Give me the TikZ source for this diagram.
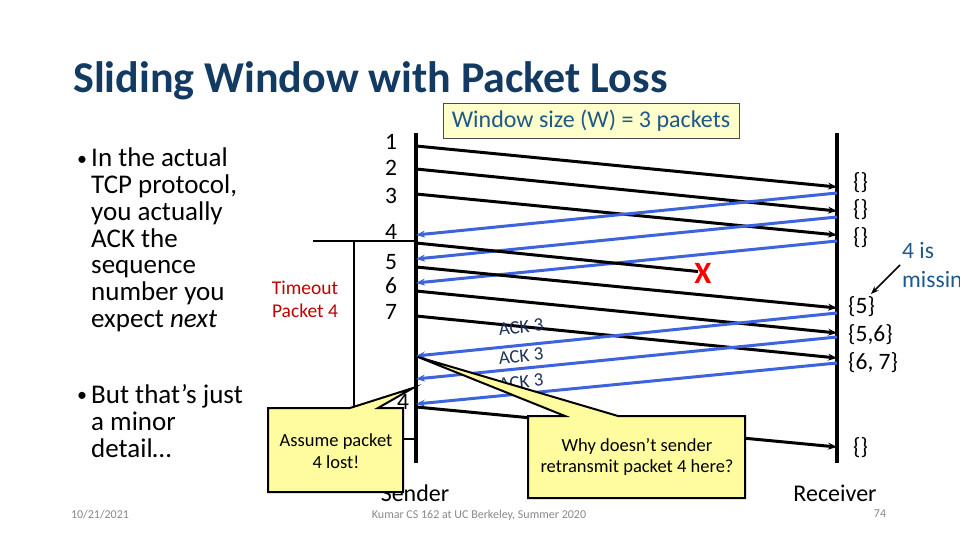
\documentclass[tikz,border=0pt]{standalone}
\usepackage{fontspec}
\setmainfont{Carlito}
\usetikzlibrary{arrows.meta}
\definecolor{titleblue}{RGB}{18,58,98}
\definecolor{ackblue}{RGB}{60,100,220}
\definecolor{noteblue}{RGB}{31,88,140}
\definecolor{labelslate}{RGB}{30,50,90}
\definecolor{calloutyellow}{RGB}{255,252,160}
\definecolor{boxyellow}{RGB}{255,255,204}
\definecolor{timeoutred}{RGB}{192,0,0}
\definecolor{footgray}{RGB}{137,137,137}
\tikzset{
  pkt/.style={line width=3pt, black, -{Stealth[length=9pt,width=7pt]}},
  lostpkt/.style={line width=3pt, black},
  ack/.style={line width=3pt, ackblue, -{Stealth[length=9pt,width=7pt]}},
  timeline/.style={line width=4pt, black},
  bullettext/.style={anchor=base west, inner sep=0pt, font=\fontsize{27}{28}\selectfont},
  bulletdot/.style={anchor=base west, inner sep=0pt, font=\fontsize{20}{24}\selectfont},
  seqnum/.style={inner sep=0pt, font=\fontsize{23.5}{26}\selectfont},
  buflabel/.style={anchor=west, inner sep=0pt, font=\fontsize{23.5}{26}\selectfont},
  acklabel/.style={inner sep=0pt, text=labelslate, rotate=5.7, font=\fontsize{19}{22}\selectfont},
  callout/.style={fill=calloutyellow, draw=black, line width=2pt, line join=miter},
  callouttext/.style={inner sep=0pt, align=center, font=\fontsize{18.5}{21.5}\selectfont},
  foot/.style={inner sep=0pt, text=footgray, font=\fontsize{12}{14}\selectfont},
}
\begin{document}
\begin{tikzpicture}[x=1pt,y=-1pt]
\clip (0,0) rectangle (960,540);
\fill[white] (0,0) rectangle (960,540);

% title
\node[anchor=base west, inner sep=0pt, text=titleblue, font=\bfseries\fontsize{44}{50}\selectfont] (title) at (73,93) {Sliding Window with Packet Loss};

% bullets
\node[bulletdot] (bu1) at (77,165) {•};
\node[bullettext] (bl1) at (91,167) {In the actual};
\node[bullettext] (bl2) at (91,193.7) {TCP protocol,};
\node[bullettext] (bl3) at (91,220.3) {you actually};
\node[bullettext] (bl4) at (91,247) {ACK the};
\node[bullettext] (bl5) at (91,273.7) {sequence};
\node[bullettext] (bl6) at (91,300.3) {number you};
\node[bullettext] (bl7) at (91,327) {expect \textit{next}};
\node[bulletdot] (bu2) at (77,401) {•};
\node[bullettext] (bl8) at (91,403) {But that’s just};
\node[bullettext] (bl9) at (91,430) {a minor};
\node[bullettext] (bl10) at (91,457) {detail…};

% window size box
\node[draw=black!70, line width=0.8pt, fill=boxyellow, minimum width=296pt, minimum height=35pt, inner sep=0pt, text=noteblue, font=\fontsize{24}{28}\selectfont] (wbox) at (591,120.5) {Window size (W) = 3 packets};

% timelines
\coordinate (sTop) at (416,133);
\coordinate (sBot) at (416,463);
\coordinate (rTop) at (837,133);
\coordinate (rBot) at (837,463);
\draw[timeline] (sTop) -- (sBot);
\draw[timeline] (rTop) -- (rBot);

% sequence numbers
\node[seqnum] (n1) at (391,142) {1};
\node[seqnum] (n2) at (391,168) {2};
\node[seqnum] (n3) at (391,196) {3};
\node[seqnum] (n4) at (391,232) {4};
\node[seqnum] (n5) at (391,262) {5};
\node[seqnum] (n6) at (391,286) {6};
\node[seqnum] (n7) at (391,312) {7};

% timeout bracket
\coordinate (tA) at (313,241);
\coordinate (tB) at (416,241);
\coordinate (tC) at (354,241);
\coordinate (tD) at (354,439);
\coordinate (tE) at (416,439);
\draw[line width=1.5pt] (tA) -- (tB);
\draw[line width=1.5pt] (tC) -- (tD) -- (tE);
\node[inner sep=0pt, text=timeoutred, align=center, font=\fontsize{19.5}{23.5}\selectfont] (tout) at (305,299.5) {Timeout\\Packet 4};

% packet endpoints
\coordinate (s1) at (416,146);  \coordinate (r1) at (837,187);
\coordinate (s2) at (416,169);  \coordinate (r2) at (837,211);
\coordinate (s3) at (416,194);  \coordinate (r3) at (837,235);
\coordinate (ra1) at (837,193); \coordinate (sa1) at (416,235);
\coordinate (ra2) at (837,217); \coordinate (sa2) at (416,259);
\coordinate (ra3) at (837,241); \coordinate (sa3) at (416,283);
\coordinate (s4) at (416,243);  \coordinate (lost) at (698,271.5);
\coordinate (s5) at (416,267);  \coordinate (r5) at (837,308);
\coordinate (s6) at (416,291);  \coordinate (r6) at (837,333);
\coordinate (s7) at (416,316);  \coordinate (r7) at (837,358);
\coordinate (ra4) at (837,313); \coordinate (sa4) at (416,356);
\coordinate (ra5) at (837,337); \coordinate (sa5) at (416,379);
\coordinate (ra6) at (837,363); \coordinate (sa6) at (416,404);
\coordinate (s8) at (416,407);  \coordinate (r8) at (837,447);

\draw[pkt] (s1) -- (r1);
\draw[pkt] (s2) -- (r2);
\draw[pkt] (s3) -- (r3);
\draw[ack] (ra1) -- (sa1);
\draw[ack] (ra2) -- (sa2);
\draw[ack] (ra3) -- (sa3);
\draw[lostpkt] (s4) -- (lost);
\draw[pkt] (s5) -- (r5);
\draw[pkt] (s6) -- (r6);
\draw[pkt] (s7) -- (r7);
\draw[ack] (ra4) -- (sa4);
\draw[ack] (ra5) -- (sa5);
\draw[ack] (ra6) -- (sa6);
\draw[pkt] (s8) -- (r8);

% lost marker
\node[inner sep=0pt, text=red, font=\bfseries\fontsize{31}{34}\selectfont] (xmark) at (703,273) {X};

% ACK labels
\node[acklabel] (al1) at (521,327) {ACK 3};
\node[acklabel] (al2) at (521,356) {ACK 3};
\node[acklabel] (al3) at (521,382) {ACK 3};

% receiver buffer labels
\node[buflabel] (b1) at (853,183) {\{\}};
\node[buflabel] (b2) at (853,210) {\{\}};
\node[buflabel] (b3) at (853,238) {\{\}};
\node[buflabel] (b5) at (848,307) {\{5\}};
\node[buflabel] (b6) at (848,335) {\{5,6\}};
\node[buflabel] (b7) at (848,363) {\{6, 7\}};
\node[buflabel] (b8) at (853,448) {\{\}};

% 4 is missing note
\node[anchor=north west, inner sep=0pt, align=left, text=noteblue, font=\fontsize{23.5}{29}\selectfont] (miss) at (902,242) {4 is\\missing};
\coordinate (mA) at (900,265);
\coordinate (mB) at (871,294);
\draw[line width=1.5pt, -{Stealth[length=8pt,width=6pt]}] (mA) -- (mB);

% sender / receiver labels
\node[inner sep=0pt, font=\fontsize{24}{28}\selectfont] (sender) at (415,493) {Sender};
\node[inner sep=0pt, font=\fontsize{24}{28}\selectfont] (receiver) at (835,493) {Receiver};

% callout 1
\draw[callout] (268,408) -- (350,408) -- (413,388) -- (378,408) -- (403,408) -- (403,492) -- (268,492) -- cycle;
\node[callouttext] (c1) at (336,451) {Assume packet\\4 lost!};
\node[seqnum] (n4b) at (403,402) {4};

% callout 2
\draw[callout] (528,416) -- (565,416) -- (418,357) -- (618,416) -- (745,416) -- (745,498) -- (528,498) -- cycle;
\node[callouttext] (c2) at (637,457) {Why doesn’t sender\\retransmit packet 4 here?};

% footer
\node[foot] (date) at (100,515) {10/21/2021};
\node[foot] (course) at (479,515) {Kumar CS 162 at UC Berkeley, Summer 2020};
\node[foot] (page) at (880,514) {74};
\end{tikzpicture}
\end{document}
